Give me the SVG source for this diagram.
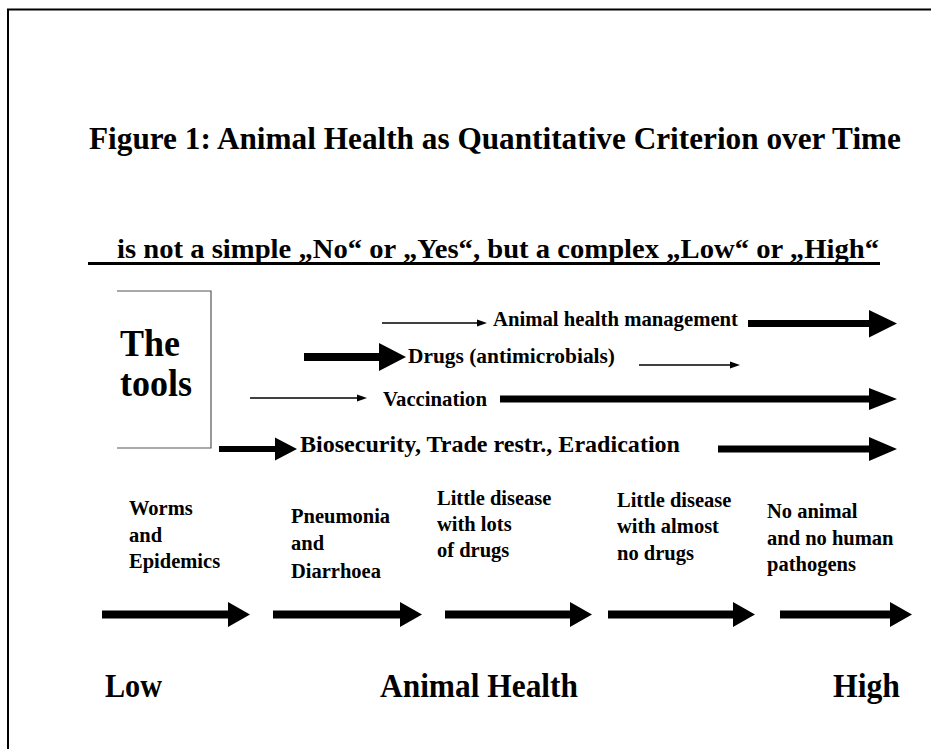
<svg xmlns="http://www.w3.org/2000/svg" width="931" height="749" viewBox="0 0 931 749">
<style>
  text { font-family: "Liberation Serif", "Times New Roman", serif; font-weight: bold; fill: #000; }
  .title { font-size: 31px; }
  .sub { font-size: 27px; }
  .tools { font-size: 37px; }
  .row { font-size: 20.5px; }
  .lbl { font-size: 20.5px; }
  .axis { font-size: 33px; }
  .thin { stroke: #000; stroke-width: 1.4; fill: none; }
  .thick { fill: #000; }
  .frame { stroke: #000; stroke-width: 2; fill: none; }
  .bracket { stroke: #555; stroke-width: 1.2; fill: none; }
</style>
<rect width="931" height="749" fill="#fff"/>
<g id="frame">
  <polyline class="frame" points="8,749 8,9.5 931,9.5"/>
</g>
<g id="title">
  <text class="title" x="89" y="149" textLength="812" lengthAdjust="spacingAndGlyphs">Figure 1: Animal Health as Quantitative Criterion over Time</text>
</g>
<g id="subtitle">
  <text class="sub" x="117" y="258" textLength="762" lengthAdjust="spacingAndGlyphs">is not a simple „No“ or „Yes“, but a complex „Low“ or „High“</text>
  <rect x="88" y="262" width="792" height="3" fill="#000"/>
</g>
<g id="tools">
  <polyline class="bracket" points="117,291 211,291 211,448 117,448"/>
  <text class="tools" x="120" y="356" textLength="60" lengthAdjust="spacingAndGlyphs">The</text>
  <text class="tools" x="120" y="396" textLength="72" lengthAdjust="spacingAndGlyphs">tools</text>
</g>
<g id="node-management">
  <text class="row" x="493" y="326" textLength="245" lengthAdjust="spacingAndGlyphs">Animal health management</text>
</g>
<g id="node-drugs">
  <text class="row" x="408" y="363" textLength="207" lengthAdjust="spacingAndGlyphs">Drugs (antimicrobials)</text>
</g>
<g id="node-vaccination">
  <text class="row" x="383" y="406" textLength="104" lengthAdjust="spacingAndGlyphs">Vaccination</text>
</g>
<g id="node-biosecurity">
  <text class="row" style="font-size:23px" x="300" y="452" textLength="380" lengthAdjust="spacingAndGlyphs">Biosecurity, Trade restr., Eradication</text>
</g>
<g id="connectors">
  <line class="thin" x1="382" y1="323" x2="478" y2="323"/>
  <polygon class="thick" points="477,319.5 487,323 477,326.5"/>
  <line class="thin" x1="639" y1="365" x2="731" y2="365"/>
  <polygon class="thick" points="730,361.5 740,365 730,368.5"/>
  <line class="thin" x1="250" y1="398" x2="358" y2="398"/>
  <polygon class="thick" points="357,394.5 367,398 357,401.5"/>
  <polygon class="thick" points="748,320 869,320 869,310 897,323.5 869,337.5 869,327 748,327"/>
  <polygon class="thick" points="304,353 379,353 379,343 406,357 379,371 379,361 304,361"/>
  <polygon class="thick" points="500,395.5 869,395.5 869,388 897,399 869,410 869,402.5 500,402.5"/>
  <polygon class="thick" points="219,446 275,446 275,437.5 297,449 275,460.5 275,452 219,452"/>
  <polygon class="thick" points="718,445.5 869,445.5 869,437 897,449 869,461 869,452.5 718,452.5"/>
  <polygon class="thick" points="102,610.5 228,610.5 228,602 250,614.5 228,627 228,618.5 102,618.5"/>
  <polygon class="thick" points="273,610.5 400,610.5 400,602 422,614.5 400,627 400,618.5 273,618.5"/>
  <polygon class="thick" points="445,610.5 570,610.5 570,602 592,614.5 570,627 570,618.5 445,618.5"/>
  <polygon class="thick" points="608,610.5 733,610.5 733,602 755,614.5 733,627 733,618.5 608,618.5"/>
  <polygon class="thick" points="780,610.5 890,610.5 890,602 912,614.5 890,627 890,618.5 780,618.5"/>
</g>
<g id="stage-1">
  <text class="lbl" x="129" y="515">Worms</text>
  <text class="lbl" x="129" y="542">and</text>
  <text class="lbl" x="129" y="568">Epidemics</text>
</g>
<g id="stage-2">
  <text class="lbl" x="291" y="523">Pneumonia</text>
  <text class="lbl" x="291" y="550">and</text>
  <text class="lbl" x="291" y="578">Diarrhoea</text>
</g>
<g id="stage-3">
  <text class="lbl" x="437" y="505">Little disease</text>
  <text class="lbl" x="437" y="531">with lots</text>
  <text class="lbl" x="437" y="557">of drugs</text>
</g>
<g id="stage-4">
  <text class="lbl" x="617" y="507">Little disease</text>
  <text class="lbl" x="617" y="533">with almost</text>
  <text class="lbl" x="617" y="560">no drugs</text>
</g>
<g id="stage-5">
  <text class="lbl" x="767" y="518">No animal</text>
  <text class="lbl" x="767" y="545">and no human</text>
  <text class="lbl" x="767" y="571">pathogens</text>
</g>
<g id="axis">
  <text class="axis" x="105" y="697" textLength="57" lengthAdjust="spacingAndGlyphs">Low</text>
  <text class="axis" x="380" y="697" textLength="198" lengthAdjust="spacingAndGlyphs">Animal Health</text>
  <text class="axis" x="833" y="697" textLength="67" lengthAdjust="spacingAndGlyphs">High</text>
</g>
</svg>
